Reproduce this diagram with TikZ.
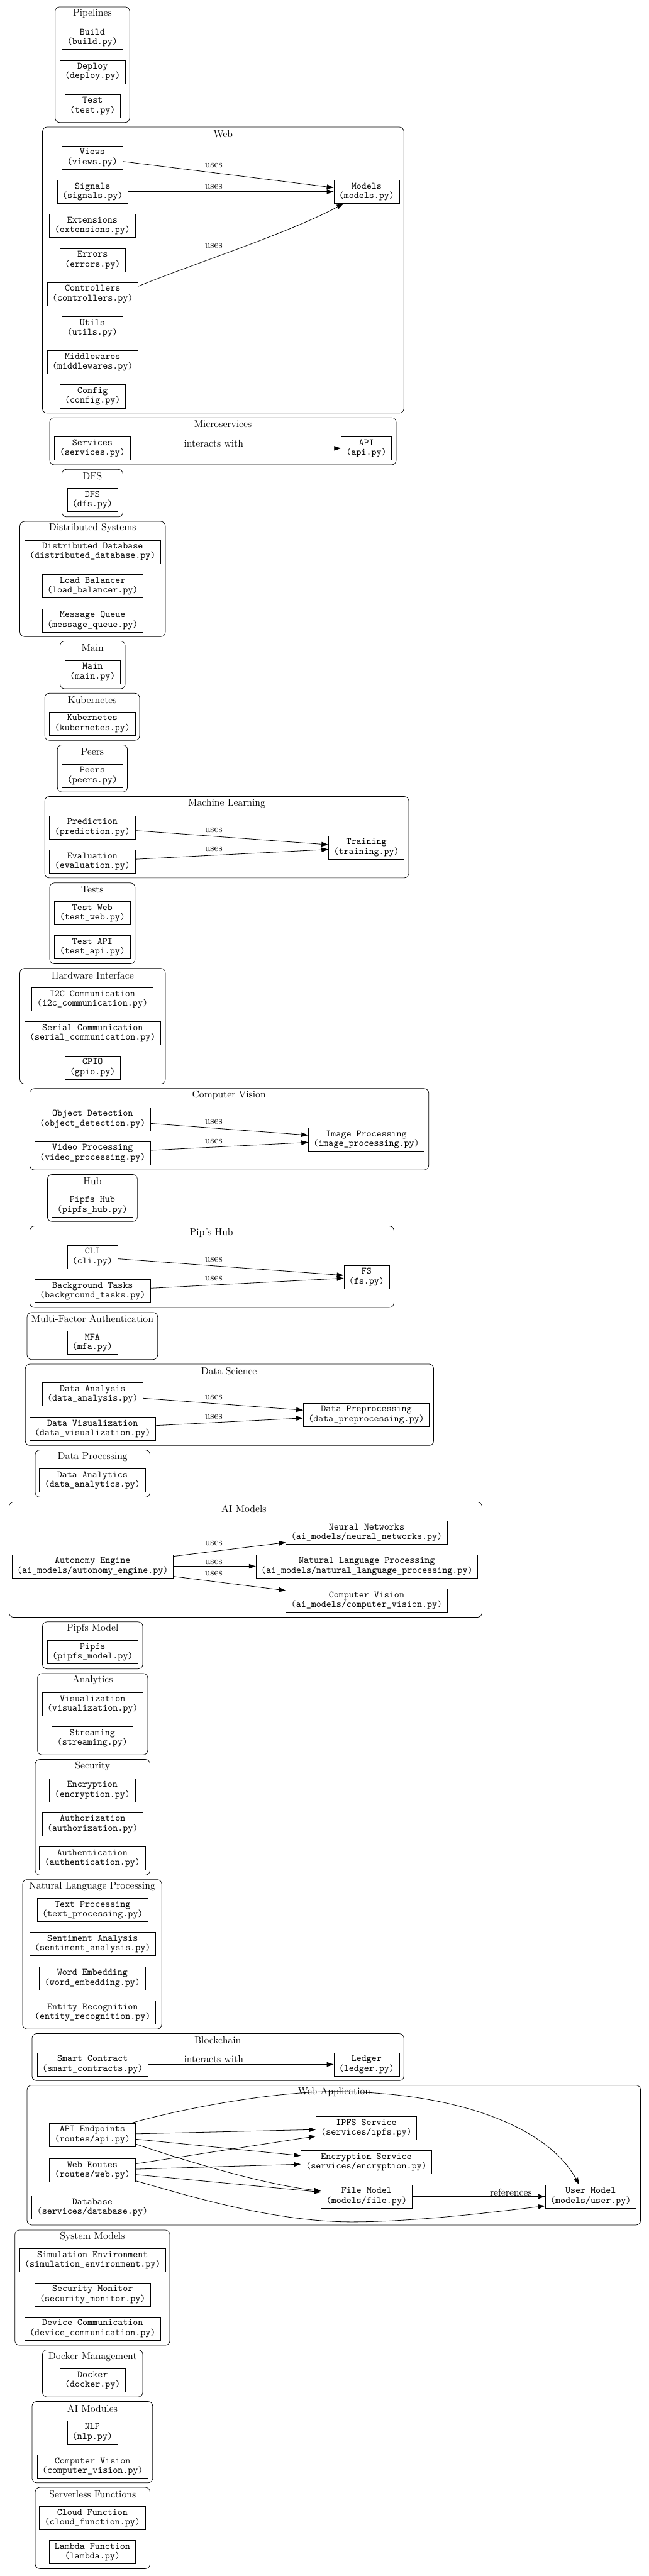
\documentclass[tikz,border=0pt]{standalone}
\usetikzlibrary{arrows.meta,calc}
\newcommand\mkbox[5]{\node[box] (#1) at (#2,#3) {#4\\(#5)};}
\newcommand\mkcl[8]{\draw[cl] (#2,#3) rectangle (#4,#5); \node[ttl] (#1) at (#6,#7) {#8};}
\newcommand\mklbl[4]{\node[lbl] (#1) at (#2,#3) {#4};}
\begin{document}
\begin{tikzpicture}[x=0.4943pt,y=-0.5pt,
  box/.style={draw, line width=0.5pt, inner xsep=5.5pt, inner ysep=0pt, minimum height=25.5pt, align=center, font=\ttfamily\fontsize{10.5}{10.5}\selectfont},
  cl/.style={draw, line width=0.5pt, rounded corners=5pt},
  ttl/.style={font=\fontsize{11}{13}\selectfont, inner sep=0pt},
  lbl/.style={font=\fontsize{11}{13}\selectfont, inner sep=0pt},
  arr/.style={-{Triangle[length=7.5pt,width=5pt]}, line width=0.55pt}]
\useasboundingbox (0,0) rectangle (1435.5,5637);
\fill[white] (0,0) rectangle (1435.5,5637);

% Clusters
\mkcl{tPipe}{122}{15}{287}{268}{204.5}{30}{Pipelines}
\mkcl{tWeb}{94}{278}{894}{904}{494}{293}{Web}
\mkcl{tMicro}{110}{914}{877}{1017}{493.5}{928}{Microservices}
\mkcl{tDFS}{137}{1027}{272}{1131}{204.5}{1042}{DFS}
\mkcl{tDist}{44}{1141}{366}{1393}{205}{1156}{Distributed Systems}
\mkcl{tMain}{133}{1403}{277}{1507}{205}{1418}{Main}
\mkcl{tKube}{99}{1517}{309}{1620}{204}{1532}{Kubernetes}
\mkcl{tPeers}{127}{1630}{282}{1733}{204.5}{1645}{Peers}
\mkcl{tML}{99}{1743}{905}{1921}{502}{1758}{Machine Learning}
\mkcl{tTests}{110}{1932}{299}{2109}{204.5}{1946}{Tests}
\mkcl{tHW}{44}{2119}{366}{2372}{205}{2134}{Hardware Interface}
\mkcl{tCV}{66}{2382}{949}{2560}{507}{2397}{Computer Vision}
\mkcl{tHub}{105}{2570}{304}{2673}{204.5}{2585}{Hub}
\mkcl{tPHub}{66}{2683}{872}{2861}{468}{2698}{Pipfs Hub}
\mkcl{tMFA}{60}{2872}{349}{2975}{204.5}{2886}{Multi-Factor Authentication}
\mkcl{tDS}{56}{2985}{960}{3163}{507}{3000}{Data Science}
\mkcl{tDP}{78}{3173}{332}{3276}{205}{3188}{Data Processing}
\mkcl{tAI}{20}{3287}{1067}{3539}{540}{3301}{AI Models}
\mkcl{tPM}{94}{3549}{316}{3652}{205}{3564}{Pipfs Model}
\mkcl{tAn}{83}{3662}{327}{3840}{205}{3677}{Analytics}
\mkcl{tSec}{78}{3850}{332}{4103}{205}{3865}{Security}
\mkcl{tNLP}{50}{4113}{358}{4440}{204}{4128}{Natural Language Processing}
\mkcl{tBC}{71}{4450}{894}{4553}{482}{4465}{Blockchain}
\mkcl{tWA}{60}{4563}{1418}{4869}{740}{4578}{Web Application}
\mkcl{tSM}{33}{4880}{376}{5132}{204.5}{4894}{System Models}
\mkcl{tDock}{94}{5142}{316}{5245}{205}{5157}{Docker Management}
\mkcl{tAIM}{71}{5255}{338}{5433}{204.5}{5270}{AI Modules}
\mkcl{tSL}{78}{5443}{332}{5621}{205}{5458}{Serverless Functions}

% Nodes
\mkbox{build}{204.5}{82.5}{Build}{build.py}
\mkbox{deploy}{205}{157.5}{Deploy}{deploy.py}
\mkbox{test}{205}{232}{Test}{test.py}
\mkbox{views}{204.5}{345}{Views}{views.py}
\mkbox{signals}{205}{419.5}{Signals}{signals.py}
\mkbox{models}{811.5}{419.5}{Models}{models.py}
\mkbox{extensions}{204.5}{494}{Extensions}{extensions.py}
\mkbox{errors}{205}{569}{Errors}{errors.py}
\mkbox{controllers}{205}{643.5}{Controllers}{controllers.py}
\mkbox{utils}{204.5}{718.5}{Utils}{utils.py}
\mkbox{middlewares}{205}{793}{Middlewares}{middlewares.py}
\mkbox{config}{205}{867.5}{Config}{config.py}
\mkbox{services}{204.5}{981}{Services}{services.py}
\mkbox{api}{811}{981}{API}{api.py}
\mkbox{dfs}{204.5}{1094.5}{DFS}{dfs.py}
\mkbox{distdb}{205}{1207.5}{Distributed Database}{distributed\_database.py}
\mkbox{lb}{205}{1282.5}{Load Balancer}{load\_balancer.py}
\mkbox{mq}{205}{1357.5}{Message Queue}{message\_queue.py}
\mkbox{main}{205}{1470.5}{Main}{main.py}
\mkbox{kube}{204.5}{1583.5}{Kubernetes}{kubernetes.py}
\mkbox{peers}{204.5}{1697.5}{Peers}{peers.py}
\mkbox{prediction}{204.5}{1810.5}{Prediction}{prediction.py}
\mkbox{evaluation}{204.5}{1885}{Evaluation}{evaluation.py}
\mkbox{training}{811}{1854.5}{Training}{training.py}
\mkbox{testweb}{204.5}{1998.5}{Test Web}{test\_web.py}
\mkbox{testapi}{204.5}{2073}{Test API}{test\_api.py}
\mkbox{i2c}{204.5}{2186.5}{I2C Communication}{i2c\_communication.py}
\mkbox{serial}{205}{2261.5}{Serial Communication}{serial\_communication.py}
\mkbox{gpio}{205}{2336}{GPIO}{gpio.py}
\mkbox{objdet}{205}{2449}{Object Detection}{object\_detection.py}
\mkbox{vidproc}{205}{2523.5}{Video Processing}{video\_processing.py}
\mkbox{imgproc}{811}{2493.5}{Image Processing}{image\_processing.py}
\mkbox{pipfshub}{204.5}{2637.5}{Pipfs Hub}{pipfs\_hub.py}
\mkbox{cli}{204.5}{2750.5}{CLI}{cli.py}
\mkbox{bgtasks}{205}{2825.5}{Background Tasks}{background\_tasks.py}
\mkbox{fs}{811.5}{2794.5}{FS}{fs.py}
\mkbox{mfa}{204.5}{2938.5}{MFA}{mfa.py}
\mkbox{danalysis}{205}{3051.5}{Data Analysis}{data\_analysis.py}
\mkbox{dvis}{205}{3126.5}{Data Visualization}{data\_visualization.py}
\mkbox{dprep}{811}{3096}{Data Preprocessing}{data\_preprocessing.py}
\mkbox{danalytics}{204.5}{3239.5}{Data Analytics}{data\_analytics.py}
\mkbox{autonomy}{205}{3427.5}{Autonomy Engine}{ai\_models/autonomy\_engine.py}
\mkbox{nn}{811.5}{3353.5}{Neural Networks}{ai\_models/neural\_networks.py}
\mkbox{nlpai}{812}{3427.5}{Natural Language Processing}{ai\_models/natural\_language\_processing.py}
\mkbox{cvai}{811.5}{3502.5}{Computer Vision}{ai\_models/computer\_vision.py}
\mkbox{pipfs}{205}{3615.5}{Pipfs}{pipfs\_model.py}
\mkbox{visualization}{205}{3729.5}{Visualization}{visualization.py}
\mkbox{streaming}{204.5}{3803.5}{Streaming}{streaming.py}
\mkbox{encryption}{204.5}{3917.5}{Encryption}{encryption.py}
\mkbox{authz}{205}{3991.5}{Authorization}{authorization.py}
\mkbox{authn}{204.5}{4066.5}{Authentication}{authentication.py}
\mkbox{textproc}{205}{4179.5}{Text Processing}{text\_processing.py}
\mkbox{sentiment}{205}{4254}{Sentiment Analysis}{sentiment\_analysis.py}
\mkbox{wordemb}{204.5}{4329}{Word Embedding}{word\_embedding.py}
\mkbox{entity}{205}{4403.5}{Entity Recognition}{entity\_recognition.py}
\mkbox{smart}{205}{4517.5}{Smart Contract}{smart\_contracts.py}
\mkbox{ledger}{811.5}{4517.5}{Ledger}{ledger.py}
\mkbox{apiend}{204.5}{4671.5}{API Endpoints}{routes/api.py}
\mkbox{webroutes}{204.5}{4749.5}{Web Routes}{routes/web.py}
\mkbox{database}{204.5}{4830.5}{Database}{services/database.py}
\mkbox{ipfs}{811}{4657.5}{IPFS Service}{services/ipfs.py}
\mkbox{encsvc}{811}{4731.5}{Encryption Service}{services/encryption.py}
\mkbox{filemodel}{811.5}{4806.5}{File Model}{models/file.py}
\mkbox{usermodel}{1307.5}{4806.5}{User Model}{models/user.py}
\mkbox{simenv}{205}{4946.5}{Simulation Environment}{simulation\_environment.py}
\mkbox{secmon}{205}{5021}{Security Monitor}{security\_monitor.py}
\mkbox{devcomm}{205}{5095.5}{Device Communication}{device\_communication.py}
\mkbox{docker}{205}{5209}{Docker}{docker.py}
\mkbox{nlpmod}{204.5}{5322.5}{NLP}{nlp.py}
\mkbox{cvmod}{205}{5397}{Computer Vision}{computer\_vision.py}
\mkbox{cloudfn}{204.5}{5510.5}{Cloud Function}{cloud\_function.py}
\mkbox{lambdafn}{204.5}{5585}{Lambda Function}{lambda.py}

% Edges
\draw[arr] (views) -- (models);
\draw[arr] (signals) -- (models);
\draw[arr] ($(controllers.east)+(0,-17)$) .. controls (420,580) and (640,510) .. ($(models.south)+(-51,0)$);
\draw[arr] (services) -- (api);
\draw[arr] (prediction) -- (training);
\draw[arr] (evaluation) -- (training);
\draw[arr] (objdet) -- (imgproc);
\draw[arr] (vidproc) -- (imgproc);
\draw[arr] (cli) -- (fs);
\draw[arr] (bgtasks) -- (fs);
\draw[arr] (danalysis) -- (dprep);
\draw[arr] (dvis) -- (dprep);
\draw[arr] (autonomy) -- (nn);
\draw[arr] (autonomy) -- (nlpai);
\draw[arr] (autonomy) -- (cvai);
\draw[arr] (smart) -- (ledger);
\draw[arr] (apiend) -- (ipfs);
\draw[arr] (apiend) -- (encsvc);
\draw[arr] ($(apiend.east)+(0,20)$) .. controls (400,4725) and (580,4780) .. ($(filemodel.west)+(0,-12)$);
\draw[arr] ($(apiend.north east)+(-8,0)$) .. controls (400,4615) and (600,4577) .. (740,4577) .. controls (1000,4577) and (1210,4650) .. ($(usermodel.north)+(-25.5,0)$);
\draw[arr] (webroutes) -- (ipfs);
\draw[arr] (webroutes) -- (encsvc);
\draw[arr] (webroutes) -- (filemodel);
\draw[arr] ($(webroutes.east)+(0,22.5)$) .. controls (400,4800) and (600,4862) .. (778,4862) .. controls (920,4862) and (1100,4840) .. ($(usermodel.west)+(0,20.5)$);
\draw[arr] (filemodel) -- (usermodel);

% Edge labels
\mklbl{l1}{473}{362}{uses}
\mklbl{l2}{473}{409}{uses}
\mklbl{l3}{473}{538}{uses}
\mklbl{l4}{473}{970}{interacts with}
\mklbl{l5}{473}{1817}{uses}
\mklbl{l6}{473}{1858}{uses}
\mklbl{l7}{473}{2455}{uses}
\mklbl{l8}{473}{2498}{uses}
\mklbl{l9}{473}{2757}{uses}
\mklbl{l10}{473}{2798}{uses}
\mklbl{l11}{473}{3058}{uses}
\mklbl{l12}{473}{3101}{uses}
\mklbl{l13}{473}{3377}{uses}
\mklbl{l14}{473}{3418}{uses}
\mklbl{l15}{473}{3443}{uses}
\mklbl{l16}{473}{4506}{interacts with}
\mklbl{l17}{1131}{4797}{references}
\end{tikzpicture}
\end{document}
